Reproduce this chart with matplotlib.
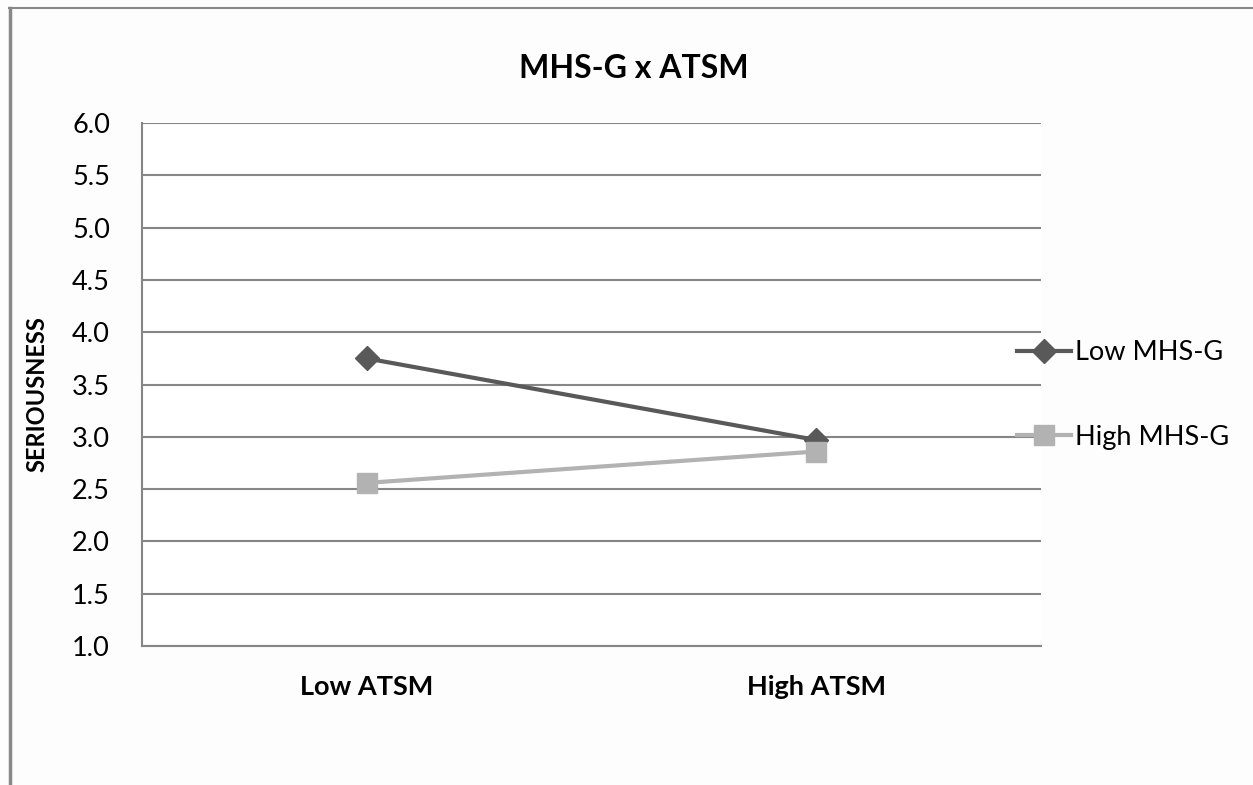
import matplotlib
matplotlib.use('Agg')
from matplotlib import pyplot as plt
from matplotlib.lines import Line2D

categories = ['Low ATSM', 'High ATSM']
low_mhsg = [3.75, 2.97]
high_mhsg = [2.56, 2.86]
yticks = [1.0, 1.5, 2.0, 2.5, 3.0, 3.5, 4.0, 4.5, 5.0, 5.5, 6.0]

plt.rcParams['font.family'] = ['Lato', 'DejaVu Sans']

fig = plt.figure(figsize=(12.53, 7.85), dpi=100)
ax = fig.add_axes([0.1133, 0.177, 0.7175, 0.6662])

x = range(len(categories))
ax.plot(x, low_mhsg, color='#595959', linewidth=3, marker='D', markersize=12,
        label='Low MHS-G', zorder=3)
ax.plot(x, high_mhsg, color='#b2b2b2', linewidth=3, marker='s', markersize=15,
        label='High MHS-G', zorder=3)

ax.set_xlim(-0.5, 1.5)
ax.set_ylim(1.0, 6.0)
ax.set_yticks(yticks)
ax.set_yticklabels([f'{v:.1f}' for v in yticks], fontsize=19.5)
ax.set_xticks(list(x))
ax.set_xticklabels(categories, fontsize=19.5, fontweight='bold')
ax.tick_params(length=0)
ax.tick_params(axis='y', pad=23)
ax.tick_params(axis='x', pad=21)
ax.grid(axis='y', color='#868686', linewidth=1.5)
ax.set_axisbelow(True)
for side in ['top', 'right']:
    ax.spines[side].set_visible(False)
for side in ['left', 'bottom']:
    ax.spines[side].set_color('#868686')
    ax.spines[side].set_linewidth(1.5)

ax.set_ylabel('SERIOUSNESS', fontsize=17, fontweight='bold')
ax.yaxis.set_label_coords(-0.1045, 0.482)
fig.text(0.506, 0.913, 'MHS-G x ATSM', fontsize=23, fontweight='bold',
         ha='center', va='center')

fig.legend(loc='center left', bbox_to_anchor=(0.8116, 0.497), frameon=False,
           fontsize=19.5, handlelength=2.0, handletextpad=0.15, labelspacing=2.2,
           borderpad=0, borderaxespad=0)

# chart border (only top and left edges are visible)
fig.add_artist(Line2D([9 / 1253, 1.0], [1 - 8 / 785] * 2, color='#888888',
                      linewidth=1.5, transform=fig.transFigure))
fig.add_artist(Line2D([9.5 / 1253] * 2, [0.0, 1 - 8 / 785], color='#888888',
                      linewidth=2.5, transform=fig.transFigure))

fig.savefig('out.png', dpi=100, facecolor='#fdfdfd')
